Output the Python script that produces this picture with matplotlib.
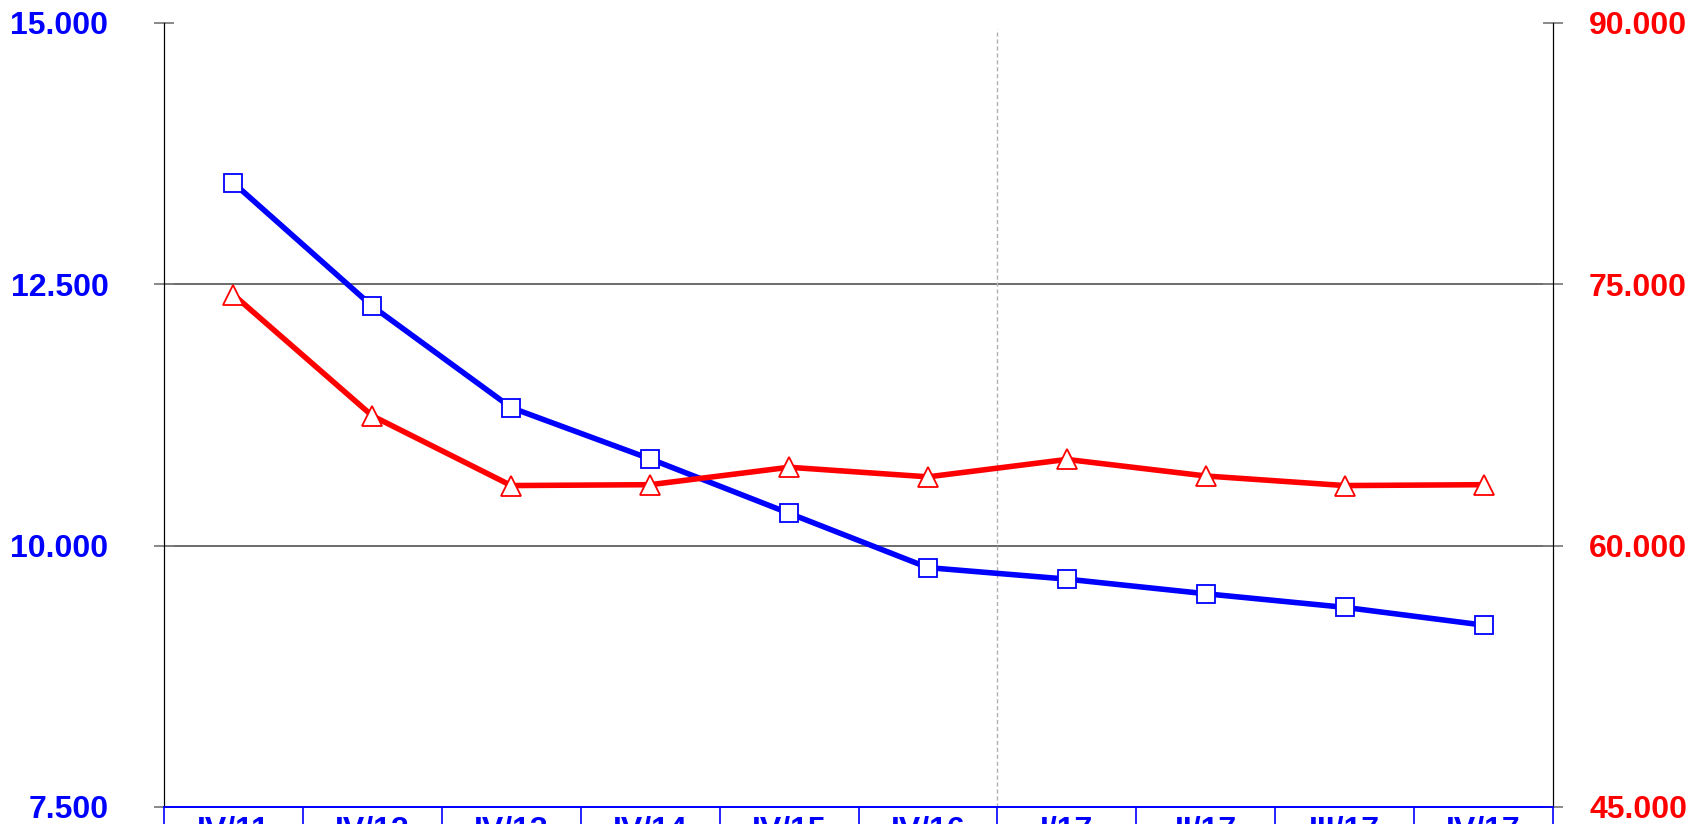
import matplotlib
matplotlib.use("Agg")
import matplotlib.pyplot as plt

plt.rcParams['font.family'] = ['Liberation Sans', 'DejaVu Sans']

quarters = ['IV/11', 'IV/12', 'IV/13', 'IV/14', 'IV/15', 'IV/16', 'I/17', 'II/17', 'III/17', 'IV/17']
blue_vals = [13470, 12290, 11320, 10830, 10310, 9790, 9680, 9540, 9410, 9240]
red_vals = [74400, 67450, 63450, 63500, 64500, 63950, 64950, 64000, 63450, 63500]

left_ticks = [7500, 10000, 12500, 15000]
left_labels = ['7.500', '10.000', '12.500', '15.000']
right_ticks = [45000, 60000, 75000, 90000]
right_labels = ['45.000', '60.000', '75.000', '90.000']

fig = plt.figure(figsize=(17.04, 8.24), dpi=100)
ax = fig.add_axes([164 / 1704, 17 / 824, (1553 - 164) / 1704, (807 - 23) / 824])
ax2 = ax.twinx()

x = list(range(len(quarters)))

# grid lines only in the middle
for v in left_ticks[1:-1]:
    ax.axhline(v, color='#606060', lw=1.3, zorder=1)
ax.axvline(5.5, ymin=0, ymax=0.992, color='#b0b0b0', lw=1, ls=(0, (3, 2)), zorder=1)

ax.plot(x, blue_vals, color='blue', lw=4, marker='s', ms=13.5, mfc='white',
        mec='blue', mew=1.3, zorder=3)
ax2.plot(x, red_vals, color='red', lw=4, marker='^', ms=14.5, mfc='white',
         mec='red', mew=1.3, zorder=3)

ax.set_xlim(-0.5, len(quarters) - 0.5)
ax.set_ylim(7500, 15000)
ax2.set_ylim(45000, 90000)

ax.set_yticks(left_ticks)
ax.set_yticklabels(left_labels)
ax2.set_yticks(right_ticks)
ax2.set_yticklabels(right_labels)
ax.tick_params(axis='y', direction='inout', length=14, width=1.3, color='#808080',
               labelsize=23, labelcolor='blue', pad=33)
ax2.tick_params(axis='y', direction='inout', length=14, width=1.3, color='#808080',
                labelsize=23, labelcolor='red', pad=19)
for lab in ax.get_yticklabels() + ax2.get_yticklabels():
    lab.set_fontweight('bold')

# category boxes along the bottom
ax.set_xticks([i - 0.5 for i in range(len(quarters) + 1)])
ax.set_xticklabels([])
ax.set_xticks(x, minor=True)
ax.set_xticklabels(quarters, minor=True)
ax.tick_params(axis='x', which='major', direction='out', length=20, width=1.2, color='blue')
ax.tick_params(axis='x', which='minor', length=0, pad=6, labelsize=23, labelcolor='blue')
for lab in ax.get_xticklabels(minor=True):
    lab.set_fontweight('bold')

for a in (ax, ax2):
    a.spines['top'].set_visible(False)
    a.spines['left'].set_color('black')
    a.spines['right'].set_color('black')
    a.spines['bottom'].set_color('blue')
    a.spines['bottom'].set_linewidth(1.3)

fig.savefig('out.png', dpi=100)
